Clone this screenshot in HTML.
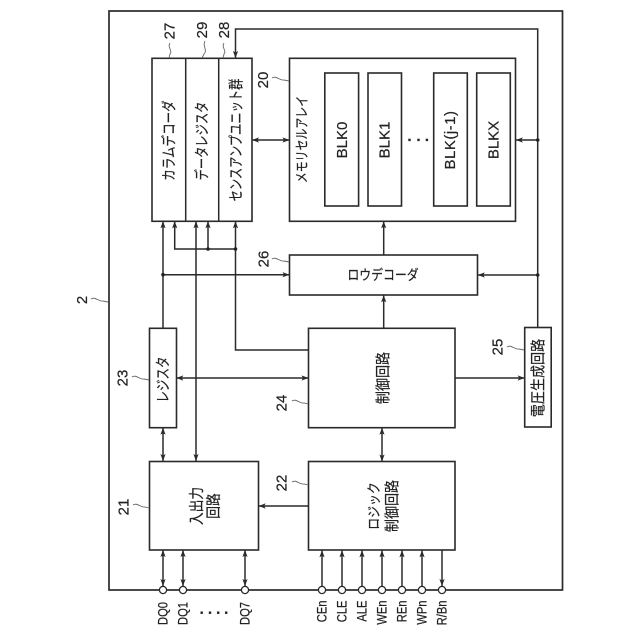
<!DOCTYPE html>
<html><head><meta charset="utf-8"><style>
html,body{margin:0;padding:0;background:#fff}
svg{display:block}
text{fill:#222;stroke:#222;stroke-width:.2;font-family:"Liberation Sans","Noto Sans CJK JP",sans-serif;text-anchor:middle;dominant-baseline:central}
.l{fill:none;stroke:#2a2a2a;stroke-width:1.5}
.b{fill:#fff;stroke:#2a2a2a;stroke-width:1.6}
.s{fill:none;stroke:#666;stroke-width:.9}
.n{font-size:15px}
.p{font-size:14px;text-anchor:end}
</style></head><body>
<svg width="640" height="640" viewBox="0 0 640 640" xmlns="http://www.w3.org/2000/svg">
<defs>
<marker id="a" markerUnits="userSpaceOnUse" markerWidth="8" markerHeight="6" refX="7" refY="3" orient="auto-start-reverse"><path d="M0 .4L7 3L0 5.6L1.5 3Z" fill="#2a2a2a"/></marker>
</defs>
<rect x="109" y="11" width="453.5" height="579" class="b" style="stroke-width:1.7"/>

<!-- connectors -->
<g class="l">
<path d="M235.5 58V29H537.7V327.5" marker-start="url(#a)"/>
<path d="M537.7 140H515.8" marker-end="url(#a)"/>
<path d="M537.7 275H477.8" marker-end="url(#a)"/>
<path d="M252 140H289.5" marker-start="url(#a)" marker-end="url(#a)"/>
<path d="M383.7 255V221.3" marker-end="url(#a)"/>
<path d="M383.7 328V295.3" marker-end="url(#a)"/>
<path d="M163 328V221.3" marker-end="url(#a)"/>
<path d="M174.7 221.3V249H235.5" marker-start="url(#a)"/>
<path d="M196 221.3V461" marker-start="url(#a)" marker-end="url(#a)"/>
<path d="M208 249V221.3" marker-end="url(#a)"/>
<path d="M308.5 350H235.5V221.3" marker-end="url(#a)"/>
<path d="M163 274.7H289.5" marker-end="url(#a)"/>
<path d="M176.3 378H308.5" marker-start="url(#a)" marker-end="url(#a)"/>
<path d="M163 427.7V461" marker-start="url(#a)" marker-end="url(#a)"/>
<path d="M455 378H524.7" marker-end="url(#a)"/>
<path d="M382 427.7V461.5" marker-start="url(#a)" marker-end="url(#a)"/>
<path d="M308.5 506H258.6" marker-end="url(#a)"/>
<path d="M163 550V586" marker-start="url(#a)" marker-end="url(#a)"/>
<path d="M183 550V586" marker-start="url(#a)" marker-end="url(#a)"/>
<path d="M245 550V586" marker-start="url(#a)" marker-end="url(#a)"/>
<path d="M322 586V550.3" marker-end="url(#a)"/>
<path d="M342 586V550.3" marker-end="url(#a)"/>
<path d="M362 586V550.3" marker-end="url(#a)"/>
<path d="M382 586V550.3" marker-end="url(#a)"/>
<path d="M402 586V550.3" marker-end="url(#a)"/>
<path d="M422 586V550.3" marker-end="url(#a)"/>
<path d="M442 550.3V586" marker-end="url(#a)"/>
</g>
<g fill="#222">
<circle cx="537.7" cy="140" r="1.8"/><circle cx="537.7" cy="275" r="1.8"/>
<circle cx="208" cy="249" r="1.8"/><circle cx="235.5" cy="249" r="1.8"/><circle cx="163" cy="274.7" r="1.8"/>
</g>

<!-- boxes -->
<rect x="152" y="58.3" width="100" height="163" class="b"/>
<path d="M185.7 58.3V221.3M218.7 58.3V221.3" class="l"/>
<rect x="289.5" y="58.3" width="226" height="163" class="b"/>
<rect x="324.8" y="73" width="33.8" height="133" class="b"/>
<rect x="368" y="73" width="33.5" height="133" class="b"/>
<rect x="433.7" y="73" width="33.6" height="133" class="b"/>
<rect x="476.7" y="73" width="33.6" height="133" class="b"/>
<rect x="289.5" y="255" width="188" height="40" class="b"/>
<rect x="308.5" y="328.3" width="146.5" height="99.4" class="b"/>
<rect x="308.5" y="461.5" width="146.5" height="88.5" class="b"/>
<rect x="149.5" y="461.5" width="109" height="88.5" class="b"/>
<rect x="149.5" y="328.3" width="27" height="99.4" class="b"/>
<rect x="524.7" y="327.5" width="26.5" height="99.5" class="b"/>

<!-- pins -->
<g fill="#fff" stroke="#2a2a2a" stroke-width="1.3">
<circle cx="163" cy="590" r="3.6"/><circle cx="183" cy="590" r="3.6"/><circle cx="245" cy="590" r="3.6"/>
<circle cx="322" cy="590" r="3.6"/><circle cx="342" cy="590" r="3.6"/><circle cx="362" cy="590" r="3.6"/><circle cx="382" cy="590" r="3.6"/><circle cx="402" cy="590" r="3.6"/><circle cx="422" cy="590" r="3.6"/><circle cx="442" cy="590" r="3.6"/>
</g>

<!-- squiggles -->
<g class="s">
<path d="M170 43c-3 4 3 8 0 11l-1 4"/>
<path d="M205 41c-3 5 3 9 -1 13l-2 4"/>
<path d="M224 43c-3 4 3 8 0 11l-1 4"/>
<path d="M272 78c4-3 8 3 12 2l5 1"/>
<path d="M272 259c4-3 8 3 12 2l5 1"/>
<path d="M91 299c4-3 8 3 12 2l5 1"/>
<path d="M132 377c4-3 8 3 12 2l5 1"/>
<path d="M292 401c4-3 8 3 12 2l4 1"/>
<path d="M292 482c4-3 8 3 12 2l4 1"/>
<path d="M133 505c4-3 8 3 12 2l4 1"/>
<path d="M507 347c4-3 8 3 12 2l5 1"/>
</g>

<!-- numbers -->
<g class="n">
<text transform="translate(170 31) rotate(-90)">27</text>
<text transform="translate(202.7 30) rotate(-90)">29</text>
<text transform="translate(224.7 30) rotate(-90)">28</text>
<text transform="translate(263.5 80) rotate(-90)">20</text>
<text transform="translate(264 259) rotate(-90)">26</text>
<text transform="translate(82.7 300) rotate(-90)">2</text>
<text transform="translate(123 378) rotate(-90)">23</text>
<text transform="translate(282 403) rotate(-90)">24</text>
<text transform="translate(282 483) rotate(-90)">22</text>
<text transform="translate(124 507) rotate(-90)">21</text>
<text transform="translate(498 347) rotate(-90)">25</text>
</g>

<!-- Japanese labels -->
<g style="font-size:15px">
<text transform="translate(169 140.5) rotate(-90) scale(.77 1)">カラムデコーダ</text>
<text transform="translate(202 141) rotate(-90) scale(.75 1)">データレジスタ</text>
<text transform="translate(236 140) rotate(-90) scale(.75 1)">センスアンプユニット群</text>
<text transform="translate(302.7 139.5) rotate(-90) scale(.78 1)" style="font-size:14px">メモリセルアレイ</text>
<text transform="translate(383 275) scale(.85 1)" style="font-size:14px">ロウデコーダ</text>
<text transform="translate(382.7 378) rotate(-90) scale(.87 1)">制御回路</text>
<text transform="translate(374 506) rotate(-90) scale(.85 1)" style="font-size:14px">ロジック</text>
<text transform="translate(391.7 506) rotate(-90) scale(.87 1)">制御回路</text>
<text transform="translate(537.7 378) rotate(-90) scale(.87 1)">電圧生成回路</text>
<text transform="translate(163 379.5) rotate(-90) scale(.77 1)">レジスタ</text>
<text transform="translate(196 506) rotate(-90) scale(.85 1)">入出力</text>
<text transform="translate(213 506) rotate(-90) scale(.85 1)">回路</text>
</g>

<!-- BLK -->
<g style="font-size:15px">
<text transform="translate(342.3 140) rotate(-90)">BLK0</text>
<text transform="translate(385 140) rotate(-90)">BLK1</text>
<text transform="translate(450.7 140) rotate(-90)" style="letter-spacing:.5px">BLK(j-1)</text>
<text transform="translate(494 140) rotate(-90)">BLKX</text>
</g>
<g fill="#222">
<rect x="408.3" y="138.7" width="2.4" height="2.4"/><rect x="417.3" y="138.7" width="2.4" height="2.4"/><rect x="425.7" y="138.7" width="2.4" height="2.4"/>
<rect x="200.5" y="611.5" width="2.4" height="2.4"/><rect x="208.8" y="611.5" width="2.4" height="2.4"/><rect x="217" y="611.5" width="2.4" height="2.4"/><rect x="225" y="611.5" width="2.4" height="2.4"/>
</g>

<!-- pin labels -->
<g>
<text class="p" transform="translate(163 602) rotate(-90) scale(.8 1)">DQ0</text>
<text class="p" transform="translate(183 602) rotate(-90) scale(.8 1)">DQ1</text>
<text class="p" transform="translate(245 602) rotate(-90) scale(.8 1)">DQ7</text>
<text class="p" transform="translate(322 600.5) rotate(-90) scale(.8 1)">CEn</text>
<text class="p" transform="translate(342 600.5) rotate(-90) scale(.8 1)">CLE</text>
<text class="p" transform="translate(362 600.5) rotate(-90) scale(.8 1)">ALE</text>
<text class="p" transform="translate(382 600.5) rotate(-90) scale(.8 1)">WEn</text>
<text class="p" transform="translate(402 600.5) rotate(-90) scale(.8 1)">REn</text>
<text class="p" transform="translate(422 600.5) rotate(-90) scale(.8 1)">WPn</text>
<text class="p" transform="translate(442 600.5) rotate(-90) scale(.8 1)">R/Bn</text>
</g>
</svg>
</body></html>
